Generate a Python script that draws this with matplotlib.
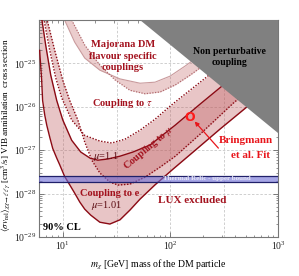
import numpy as np
import matplotlib
matplotlib.use("Agg")
import matplotlib.pyplot as plt
from matplotlib.ticker import LogLocator, NullFormatter

plt.rcParams['font.family'] = ['Liberation Serif', 'DejaVu Serif']
plt.rcParams['mathtext.fontset'] = 'stix'

# --- data (mass in GeV, cross section in cm^3/s) ---
# coupling to e, mu = 1.01 (solid, lower edge)
m_e101 = [6.1, 6.37, 6.5, 6.8, 7.1, 7.57, 8.07, 8.79, 9.38, 10.4, 11.6, 12.9, 14.4, 16.0,
          18.2, 22.1, 27.4, 34.0, 42.1, 52.2, 72.0, 106, 170, 290, 553]
s_e101 = [2.0e-25, 4.1e-26, 1.4e-26, 6.5e-27, 3.8e-27, 2.0e-27, 1.1e-27, 6.6e-28, 4.6e-28,
          2.5e-28, 1.6e-28, 1.03e-28, 6.4e-29, 4.4e-29, 3.2e-29, 2.2e-29, 2.0e-29, 2.5e-29,
          4.2e-29, 7.5e-29, 1.6e-28, 3.7e-28, 1.0e-27, 3.1e-27, 1.16e-26]
# mu = 1.1 (solid)
m_11 = [6.37, 6.94, 7.73, 8.79, 10.0, 12.1, 14.7, 17.9, 21.2, 26.3, 34.0, 44.9, 64.7, 111,
        189, 272, 446]
s_11 = [1.1e-24, 2.65e-25, 5.4e-26, 1.4e-26, 5.0e-27, 1.7e-27, 9.1e-28, 6.6e-28, 5.9e-28,
        6.3e-28, 7.3e-28, 9.1e-28, 1.32e-27, 3.8e-27, 1.16e-26, 2.44e-26, 6.7e-26]
# coupling to mu band, dotted edges
m_mu_lo = [7.09, 8.42, 10.0, 11.6, 13.8, 16.0, 18.6, 22.1, 27.4, 32.6, 42.1, 58.1, 80.2, 111,
           189, 384, 553]
s_mu_lo = [1.1e-24, 2.0e-25, 4.1e-26, 1.4e-26, 5.0e-27, 1.55e-27, 5.9e-28, 3.0e-28, 1.85e-28,
           1.58e-28, 1.66e-28, 2.4e-28, 4.1e-28, 7.3e-28, 2.36e-27, 1.22e-26, 2.6e-26]
m_mu_hi = [6.65, 7.57, 8.61, 9.79, 12.1, 16.0, 22.1, 28.6, 37.8, 52.2, 72.0, 99.4, 137, 189, 290]
s_mu_hi = [1.1e-24, 2.0e-25, 4.6e-26, 1.6e-26, 5.0e-27, 2.2e-27, 1.63e-27, 1.47e-27, 1.8e-27,
           2.9e-27, 5.2e-27, 1.04e-26, 1.97e-26, 3.7e-26, 8.7e-26]
# coupling to tau band
m_tau_hi = [10.4, 12.9, 16.0, 22.1, 34.0, 52.2, 72.0, 99.4, 137, 189]
s_tau_hi = [1.0e-24, 3.1e-25, 1.33e-25, 7.0e-26, 4.4e-26, 3.5e-26, 3.7e-26, 5.1e-26, 8.7e-26,
            1.56e-25]
m_tau_lo = [12.1, 16.0, 22.1, 30.5, 42.1, 58.1, 80.2, 111, 153, 211, 290]
s_tau_lo = [1.0e-24, 2.65e-25, 9.2e-26, 4.2e-26, 2.4e-26, 2.0e-26, 2.2e-26, 3.2e-26, 5.4e-26,
            9.7e-26, 1.83e-25]
# non perturbative region, thermal relic band, Bringmann et al. fit
m_nonpert = [52.2, 1000, 1000]
s_nonpert = [1.0e-24, 1.0e-24, 2.5e-27]
relic_band = [1.85e-28, 2.55e-28]
fit_m, fit_s = 150, 5.8e-27

xlim = (6, 1000)
ylim = (1e-29, 1e-24)

dark = '#8b0a14'
fillc = '#be5a5c'

fig = plt.figure(figsize=(2.99, 2.76), dpi=100)
ax = fig.add_axes([0.130, 0.141, 0.800, 0.7865])
ax.set_xscale('log')
ax.set_yscale('log')


def band(m_lo, s_lo, m_hi, s_hi, a):
    # common grid in log mass to fill between the two edges
    lo = np.log10(m_lo)
    hi = np.log10(m_hi)
    g = np.linspace(min(lo[0], hi[0]), max(lo[-1], hi[-1]), 400)
    y1 = np.interp(g, lo, np.log10(s_lo), left=-23, right=-23)
    y2 = np.interp(g, hi, np.log10(s_hi), left=-23, right=-23)
    ax.fill_between(10 ** g, 10 ** y1, 10 ** y2, color=fillc, alpha=a, lw=0, zorder=1)


band(m_tau_lo, s_tau_lo, m_tau_hi, s_tau_hi, 0.30)
band(m_e101, s_e101, m_11, s_11, 0.35)
band(m_mu_lo, s_mu_lo, m_mu_hi, s_mu_hi, 0.35)

ax.plot(m_tau_hi, s_tau_hi, color='#c99a9c', lw=0.8, zorder=2)
ax.plot(m_tau_lo, s_tau_lo, color='#b06a6e', lw=0.9, ls=(0, (1, 1.2)), zorder=2)
ax.plot(m_e101, s_e101, color=dark, lw=1.0, zorder=3)
ax.plot(m_11, s_11, color=dark, lw=1.0, zorder=3)
ax.plot(m_mu_lo, s_mu_lo, color=dark, lw=1.0, ls=(0, (1, 1.2)), zorder=3)
ax.plot(m_mu_hi, s_mu_hi, color=dark, lw=1.0, ls=(0, (1, 1.2)), zorder=3)

# thermal relic band
ax.axhspan(relic_band[0], relic_band[1], color='#6b6bd6', alpha=0.6, lw=0, zorder=4)
for v in relic_band:
    ax.axhline(v, color='#20206a', lw=0.9, zorder=4)
ax.text(220, 2.2e-28, 'Thermal Relic - upper bound', color='#e6e6f5', fontsize=5,
        fontweight='bold', ha='center', va='center', zorder=5)

# non perturbative coupling
ax.fill(m_nonpert, s_nonpert, color='#808080', lw=0, zorder=6)
ax.text(352, 1.4e-25, 'Non perturbative\ncoupling', fontsize=7, fontweight='bold',
        ha='center', va='center', linespacing=1.4, zorder=7)

# grid
for gx in [10, 10 ** 1.5, 100, 10 ** 2.5]:
    ax.axvline(gx, color='#c8c8c8', lw=0.6, ls=(0, (3, 2)), zorder=0.5)
for gy in [1e-28, 1e-27, 1e-26, 1e-25]:
    ax.axhline(gy, color='#c8c8c8', lw=0.6, ls=(0, (3, 2)), zorder=0.5)

# labels in the plot
red = '#a3121e'
ax.text(36.3, 1.48e-25, 'Majorana DM\nflavour specific\ncouplings', color=red, fontsize=7.5,
        fontweight='bold', ha='center', va='center', linespacing=1.35, zorder=7)
ax.text(36.3, 1.22e-26, r'Coupling to $\tau$', color=red, fontsize=7.5, fontweight='bold',
        ha='center', va='center', zorder=7)
ax.text(62, 1.1e-27, r'Coupling to $\mu$', color=red, fontsize=7.5, fontweight='bold',
        ha='center', va='center', rotation=40, zorder=7)
ax.text(25.1, 7.0e-28, r'$\mu$=1.1', color='#5a0a10', fontsize=7.5, ha='center',
        va='center', zorder=7)
ax.text(27.4, 1.03e-28, 'Coupling to e', color=red, fontsize=7.5, fontweight='bold',
        ha='center', va='center', zorder=7)
ax.text(25.7, 5.2e-29, r'$\mu$=1.01', color='#5a0a10', fontsize=7.5, ha='center',
        va='center', zorder=7)
ax.text(159, 7.1e-29, 'LUX excluded', color=red, fontsize=8, fontweight='bold',
        ha='center', va='center', zorder=7)
ax.text(497, 1.7e-27, 'Bringmann', color='#e8151b', fontsize=8, fontweight='bold',
        ha='center', va='center', zorder=7)
ax.text(553, 7.7e-28, 'et al. Fit', color='#e8151b', fontsize=8, fontweight='bold',
        ha='center', va='center', zorder=7)
ax.text(fit_m, fit_s, 'O', color='#ff1a1a', fontsize=9, fontweight='bold',
        family='DejaVu Sans', ha='center', va='center', zorder=8)
ax.annotate('', xy=(168, 4.6e-27), xytext=(279, 1.12e-27),
            arrowprops=dict(arrowstyle='-|>', color='#e8151b', lw=0.9,
                            mutation_scale=6, shrinkA=0, shrinkB=0), zorder=8)
ax.text(6.5, 1.7e-29, '90% CL', fontsize=7.5, fontweight='bold', ha='left', va='center',
        zorder=7)

ax.set_xlim(xlim)
ax.set_ylim(ylim)
ax.set_xticks([10, 100, 1000])
ax.set_yticks([1e-29, 1e-28, 1e-27, 1e-26, 1e-25])
ax.xaxis.set_minor_locator(LogLocator(base=10, subs=np.arange(2, 10)))
ax.yaxis.set_minor_locator(LogLocator(base=10, subs=np.arange(2, 10)))
ax.xaxis.set_minor_formatter(NullFormatter())
ax.yaxis.set_minor_formatter(NullFormatter())
ax.tick_params(which='both', direction='in', top=True, right=True, colors='#666666',
               labelcolor='#222222', labelsize=7)
ax.tick_params(which='major', length=3.5, width=0.6, pad=2)
ax.tick_params(which='minor', length=1.8, width=0.5)
for sp in ax.spines.values():
    sp.set_color('#777777')
    sp.set_linewidth(0.8)

ax.set_xlabel(r'$m_\chi$ [GeV] mass of the DM particle', fontsize=7, labelpad=4)
ax.set_ylabel(r'$\langle\sigma v_{\rm rel}\rangle_{\chi\chi\to\ell\ell\gamma}$ [cm$^3$/s] '
              'VIB annihilation  cross section', fontsize=6.6)
ax.yaxis.set_label_coords(-0.108, 0.47)

fig.savefig('out.png', dpi=100)
